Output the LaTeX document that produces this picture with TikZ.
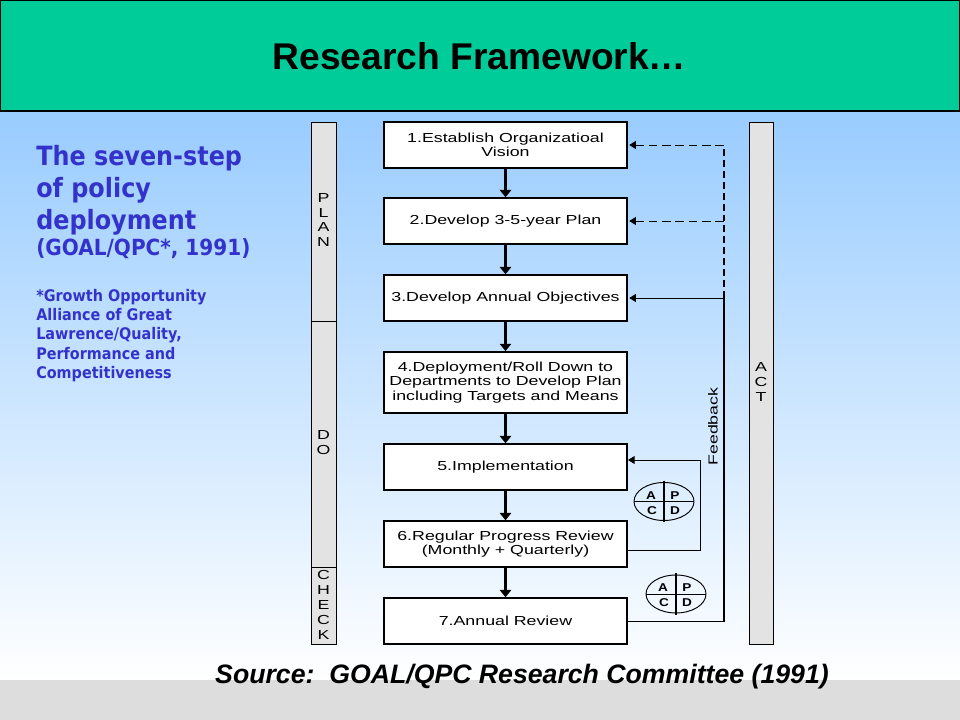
\documentclass[tikz,border=0pt]{standalone}
\usepackage{fontspec}
\usetikzlibrary{arrows.meta,shapes.geometric,positioning}
\setmainfont{Liberation Sans}
\newfontfamily\boxfont[FakeStretch=1.36]{Liberation Sans}
\newfontfamily\pdcafont[FakeStretch=1.2]{Liberation Sans}
\newfontfamily\sidefont[FakeStretch=0.9]{DejaVu Sans}
\definecolor{headgreen}{HTML}{00CC99}
\definecolor{skytop}{HTML}{99CCFF}
\definecolor{bandgray}{HTML}{DDDDDD}
\definecolor{bargray}{HTML}{E3E3E3}
\definecolor{sideblue}{HTML}{3333CC}
\tikzset{
  stepbox/.style={draw=black,fill=white,line width=1.1pt,minimum width=182.5pt,inner sep=0pt,align=center,font=\boxfont\fontsize{9.8}{10.6}\selectfont},
  sidebar/.style={draw=black,fill=bargray,line width=0.6pt,minimum width=19pt,inner sep=0pt},
  barlabel/.style={align=center,inner sep=0pt,font=\boxfont\fontsize{9.8}{11.2}\selectfont},
  flow/.style={line width=1.6pt,-{Triangle[length=5.5pt,width=8.5pt]}},
  backarrow/.style={line width=0.7pt,-{Triangle[length=5pt,width=6pt]}},
  dasharrow/.style={line width=0.7pt,dash pattern=on 6.5pt off 3.5pt,-{Triangle[length=5pt,width=6pt]}},
  dashtrunk/.style={line width=1.3pt,dash pattern=on 5.2pt off 3pt},
  pdca/.style={draw=black,ellipse,line width=0.7pt,minimum width=45pt,minimum height=28.5pt,inner sep=0pt},
  pdcatext/.style={inner sep=0pt,font=\pdcafont\bfseries\fontsize{8.5}{9}\selectfont},
  leadtext/.style={anchor=north west,inner sep=0pt,align=left,text=sideblue,font=\sidefont\bfseries\fontsize{19.9}{24}\selectfont},
  citetext/.style={anchor=north west,inner sep=0pt,align=left,text=sideblue,font=\sidefont\bfseries\fontsize{16.7}{18}\selectfont},
  notetext/.style={anchor=north west,inner sep=0pt,align=left,text=sideblue,font=\sidefont\bfseries\fontsize{12}{14.4}\selectfont}
}
\begin{document}
\begin{tikzpicture}[x=0.75pt,y=-0.75pt]
\useasboundingbox (0,0) rectangle (960,720);
% background
\shade[top color=skytop,bottom color=white] (0,111) rectangle (960,681);
\fill[bandgray] (0,680) rectangle (960,720);
\draw[draw=black,fill=headgreen,line width=0.8pt] (0,0) rectangle (960,111);
\node[inner sep=0pt,font=\bfseries\fontsize{27.9}{30}\selectfont] (title) at (479.5,56) {Research Framework…};
% left text
\node[leadtext] (lead) at (36,145) {The seven-step\\of policy\\deployment};
\node[citetext] (cite) at (36,238) {(GOAL/QPC*, 1991)};
\node[notetext] (note) at (36,289) {*Growth Opportunity\\Alliance of Great\\Lawrence/Quality,\\Performance and\\Competitiveness};
% side bars
\node[sidebar,anchor=north west,minimum height=149.25pt] (plan) at (311,122) {};
\node[sidebar,anchor=north west,minimum height=184.5pt] (do) at (311,321) {};
\node[sidebar,anchor=north west,minimum height=57.75pt] (check) at (311,567) {};
\node[sidebar,anchor=north west,minimum height=391.5pt,minimum width=18pt] (act) at (749,122) {};
\node[barlabel] (planl) at (323.5,220) {P\\L\\A\\N};
\node[barlabel] (dol) at (323.5,443) {D\\O};
\node[barlabel] (checkl) at (323.5,605) {C\\H\\E\\C\\K};
\node[barlabel] (actl) at (761,382) {A\\C\\T};
% step boxes
\node[stepbox,minimum height=34.5pt] (s1) at (505.5,145) {1.Establish Organizatioal\\Vision};
\node[stepbox,minimum height=34.5pt] (s2) at (505.5,221) {2.Develop 3-5-year Plan};
\node[stepbox,minimum height=34.5pt] (s3) at (505.5,298) {3.Develop Annual Objectives};
\node[stepbox,minimum height=46pt] (s4) at (505.5,382.5) {4.Deployment/Roll Down to\\Departments to Develop Plan\\including Targets and Means};
\node[stepbox,minimum height=34.5pt] (s5) at (505.5,467) {5.Implementation};
\node[stepbox,minimum height=34.5pt] (s6) at (505.5,544) {6.Regular Progress Review\\(Monthly + Quarterly)};
\node[stepbox,minimum height=34.5pt] (s7) at (505.5,621) {7.Annual Review};
% flow
\draw[flow] (s1) -- (s2);
\draw[flow] (s2) -- (s3);
\draw[flow] (s3) -- (s4);
\draw[flow] (s4) -- (s5);
\draw[flow] (s5) -- (s6);
\draw[flow] (s6) -- (s7);
% feedback
\coordinate (fbtop) at (724,145);
\coordinate (fbtwo) at (724,221);
\coordinate (fbthree) at (724,298);
\coordinate (fbbot) at (724,621);
\coordinate (loopa) at (700,550);
\coordinate (loopb) at (700,460);
\coordinate (s6exit) at (627,550);
\coordinate (s5in) at (628,460);
\draw[line width=0.7pt] (s7.east) -- (fbbot);
\draw[line width=1.5pt,line cap=rect] (fbbot) -- (fbthree);
\draw[backarrow,shorten >=1pt] (fbthree) -- (s3.east);
\draw[dashtrunk] (fbthree) -- (fbtop);
\draw[dasharrow,shorten >=1pt] (fbtop) -- (s1.east);
\draw[dasharrow,shorten >=1pt] (fbtwo) -- (s2.east);
\draw[backarrow] (s6exit) -- (loopa) -- (loopb) -- (s5in);
\node[rotate=90,inner sep=0pt,font=\boxfont\fontsize{9.8}{11}\selectfont] (fb) at (713,426.5) {Feedback};
% PDCA
\node[pdca] (e1) at (664,501.5) {};
\draw[line width=0.7pt] (e1.west) -- (e1.east);
\draw[line width=0.9pt] ([yshift=1pt]e1.north) -- ([yshift=-1pt]e1.south);
\node[pdcatext] (e1a) at (651,495.5) {A};
\node[pdcatext] (e1p) at (675,495.5) {P};
\node[pdcatext] (e1c) at (652,510.5) {C};
\node[pdcatext] (e1d) at (675,510.5) {D};
\node[pdca] (e2) at (676,594) {};
\draw[line width=0.7pt] (e2.west) -- (e2.east);
\draw[line width=0.9pt] ([yshift=1pt]e2.north) -- ([yshift=-1pt]e2.south);
\node[pdcatext] (e2a) at (663,587.5) {A};
\node[pdcatext] (e2p) at (687,587.5) {P};
\node[pdcatext] (e2c) at (664,602.5) {C};
\node[pdcatext] (e2d) at (687,602.5) {D};
% source
\node[inner sep=0pt,font=\bfseries\itshape\fontsize{20}{22}\selectfont] (src) at (522,676.5) {Source:\ \ GOAL/QPC Research Committee (1991)};
\end{tikzpicture}
\end{document}
